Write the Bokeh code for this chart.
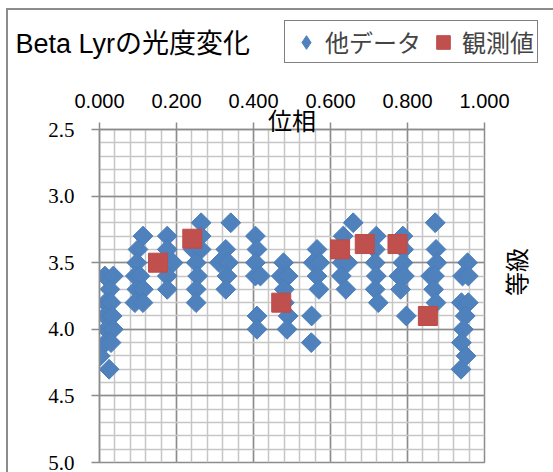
import numpy as np
from bokeh.plotting import figure
from bokeh.layouts import column
from bokeh.models import (Range1d, FixedTicker, NumeralTickFormatter, Label, Legend,
                          LegendItem, LinearAxis)
from bokeh.embed import file_html
from bokeh.resources import INLINE

# Comparison data: phase and magnitude
other_phase = [
    0.014, 0.036, 0.027, 0.016, 0.030, 0.015, 0.033, 0.018, 0.036, 0.016, 0.030, 0.002, 0.025,
    0.113, 0.100, 0.097, 0.093, 0.105, 0.097, 0.114, 0.092, 0.113,
    0.176, 0.176, 0.191, 0.176, 0.176,
    0.264, 0.264, 0.243, 0.264, 0.251, 0.255, 0.251, 0.251,
    0.341, 0.328, 0.311, 0.335, 0.331, 0.328,
    0.405, 0.409, 0.405, 0.405, 0.418, 0.409, 0.409,
    0.478, 0.472, 0.490, 0.480, 0.480, 0.490, 0.487,
    0.565, 0.555, 0.572, 0.565, 0.570, 0.551, 0.550,
    0.659, 0.633, 0.630, 0.645, 0.628, 0.640,
    0.719, 0.716, 0.716, 0.719, 0.716, 0.724,
    0.788, 0.790, 0.788, 0.778, 0.792, 0.782, 0.797,
    0.872, 0.874, 0.876, 0.860, 0.870, 0.868, 0.874,
    0.956, 0.943, 0.958, 0.940, 0.958, 0.950, 0.945, 0.940, 0.952, 0.939,
]
other_mag = [
    3.6, 3.6, 3.7, 3.8, 3.8, 3.9, 3.9, 4.0, 4.0, 4.1, 4.1, 4.2, 4.3,
    3.3, 3.4, 3.5, 3.6, 3.6, 3.7, 3.7, 3.8, 3.8,
    3.3, 3.4, 3.5, 3.6, 3.7,
    3.2, 3.3, 3.4, 3.4, 3.5, 3.6, 3.7, 3.8,
    3.2, 3.4, 3.5, 3.5, 3.6, 3.7,
    3.3, 3.4, 3.5, 3.6, 3.6, 3.9, 4.0,
    3.5, 3.6, 3.6, 3.7, 3.8, 3.9, 4.0,
    3.4, 3.5, 3.5, 3.6, 3.7, 3.9, 4.1,
    3.2, 3.3, 3.5, 3.5, 3.6, 3.7,
    3.3, 3.4, 3.5, 3.6, 3.7, 3.8,
    3.3, 3.4, 3.5, 3.6, 3.6, 3.7, 3.9,
    3.2, 3.4, 3.5, 3.6, 3.6, 3.7, 3.8,
    3.5, 3.6, 3.6, 3.8, 3.8, 3.9, 4.0, 4.1, 4.2, 4.3,
]

# Own observations
obs_phase = [0.152, 0.241, 0.472, 0.625, 0.689, 0.774, 0.853]
obs_mag = [3.50, 3.32, 3.80, 3.40, 3.36, 3.36, 3.90]

phase_ticks = [0.0, 0.2, 0.4, 0.6, 0.8, 1.0]
mag_ticks = [2.5, 3.0, 3.5, 4.0, 4.5, 5.0]

title_text = "Beta Lyrの光度変化"
series_names = ["他データ", "観測値"]
x_title = "位相"
y_title = "等級"

BLUE, BLUE_EDGE = "#4F81BD", "#4A7EBB"
RED, RED_EDGE = "#C0504D", "#BE4B48"
GRID_MAJOR, GRID_MINOR = "#8c8c8c", "#c6c6c6"
JP = "Noto Sans CJK JP"

# ---- header strip: chart title and legend on one line ----
HW, HH = 545, 70
hdr = figure(width=HW, height=HH, x_range=Range1d(0, HW), y_range=Range1d(HH, 0),
             x_axis_type=None, y_axis_type=None, toolbar_location=None,
             output_backend="svg", title=None, min_border=0)
hdr.outline_line_color = None
hdr.background_fill_color = "white"
hdr.border_fill_color = "white"
hdr.add_layout(Label(x=7, y=33, text=title_text, text_align="left",
                     text_baseline="alphabetic", text_font="Liberation Sans, Noto Sans CJK JP",
                     text_font_size="27px", text_color="black"))

# legend swatches: same series with zero-size markers, so only the key shows them
key_other = hdr.scatter(other_phase, other_mag, marker="diamond", size=0,
                        fill_color=BLUE, line_color=BLUE_EDGE)
key_obs = hdr.scatter(obs_phase, obs_mag, marker="square", size=0,
                      fill_color=RED, line_color=RED_EDGE)
legend = Legend(items=[LegendItem(label=series_names[0], renderers=[key_other]),
                       LegendItem(label=series_names[1], renderers=[key_obs])],
                location=(276, 17), orientation="horizontal",
                border_line_color="black", border_line_width=1,
                background_fill_color="white", background_fill_alpha=1,
                padding=3, spacing=4, glyph_width=36, glyph_height=34, label_standoff=1,
                margin=0, label_text_font=JP, label_text_font_size="24px")
hdr.add_layout(legend)

# ---- main chart ----
p = figure(width=545, height=392, output_backend="svg", toolbar_location=None, title=None,
           x_range=Range1d(0, 1), y_range=Range1d(5.0, 2.5), x_axis_location="above",
           min_border_left=91, min_border_right=65, min_border_top=49, min_border_bottom=10)
p.background_fill_color = "white"
p.border_fill_color = "white"
p.outline_line_color = GRID_MAJOR
p.outline_line_width = 1.5

# the header keeps its own full-width frame
for fig in (hdr, p):
    if "frame_align" in fig.properties():
        fig.frame_align = False

# fine graph-paper grid: 0.04 in phase, 0.1 in magnitude
xt = FixedTicker(ticks=phase_ticks, minor_ticks=[round(v, 2) for v in np.arange(0, 1.0001, 0.04)])
yt = FixedTicker(ticks=mag_ticks, minor_ticks=[round(v, 1) for v in np.arange(2.5, 5.0001, 0.1)])
p.xaxis.ticker = xt
p.xgrid.ticker = xt
p.yaxis.ticker = yt
p.ygrid.ticker = yt

for g in (p.xgrid, p.ygrid):
    g.grid_line_color = GRID_MAJOR
    g.grid_line_width = 1.5
    g.minor_grid_line_color = GRID_MINOR
    g.minor_grid_line_width = 1.5

for ax in (p.xaxis, p.yaxis):
    ax.axis_line_color = GRID_MAJOR
    ax.axis_line_width = 1.5
    ax.major_tick_line_color = GRID_MAJOR
    ax.major_tick_line_width = 1.5
    ax.major_tick_in = 0
    ax.minor_tick_line_color = None
    ax.major_label_text_color = "black"

p.xaxis.major_tick_out = 7
p.xaxis.formatter = NumeralTickFormatter(format="0.000")
p.xaxis.major_label_text_font = "Liberation Sans"
p.xaxis.major_label_text_font_size = "20px"
p.xaxis.major_label_standoff = 15
p.xaxis.axis_label = x_title
p.xaxis.axis_label_text_font = JP
p.xaxis.axis_label_text_font_size = "24px"
p.xaxis.axis_label_text_font_style = "normal"
p.xaxis.axis_label_text_color = "black"
p.xaxis.axis_label_standoff = -46

p.yaxis.major_tick_out = 8
p.yaxis.formatter = NumeralTickFormatter(format="0.0")
p.yaxis.major_label_text_font = "Liberation Serif"
p.yaxis.major_label_text_font_size = "21px"
p.yaxis.major_label_standoff = 17

# magnitude title on the right-hand side, reading bottom to top
yr = LinearAxis(ticker=FixedTicker(ticks=[]), axis_label=y_title,
                axis_line_color=None, major_tick_line_color=None, minor_tick_line_color=None,
                major_label_text_font_size="0px", axis_label_text_font=JP,
                axis_label_text_font_size="24px", axis_label_text_font_style="normal",
                axis_label_text_color="black", axis_label_standoff=31)
if "axis_label_orientation" in yr.properties():
    yr.axis_label_orientation = np.pi / 2
p.add_layout(yr, "right")

# data points: rotated squares as diamonds, plain squares for observations
p.scatter(other_phase, other_mag, marker="square", size=14, angle=np.pi / 4,
          fill_color=BLUE, line_color=BLUE_EDGE, line_width=1)
p.scatter(obs_phase, obs_mag, marker="square", size=19,
          fill_color=RED, line_color=RED_EDGE, line_width=1)

page = column(hdr, p, spacing=0)
page.margin = (8, 0, 0, 6)
page.styles = {"border-top": "2px solid #8c8c8c", "border-left": "2px solid #8c8c8c"}

open("out.html", "w").write(file_html(page, INLINE))
